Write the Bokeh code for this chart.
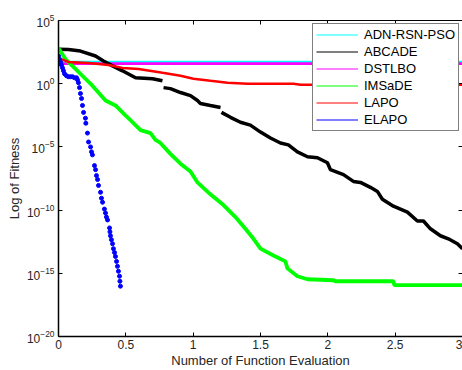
import math
from bokeh.plotting import figure
from bokeh.models import (FixedTicker, LinearAxis, LogAxis, CustomJSTickFormatter,
                          Legend, LegendItem, Range1d)
from bokeh.embed import file_html
from bokeh.resources import INLINE

nan = float("nan")

# x values in units of 10^4 function evaluations; y given as log10(fitness)
adn_x = [0.0, 3.0]
adn_e = [1.76, 1.76]

dst_x = [0.0, 3.0]
dst_e = [1.60, 1.60]

abc_x = [0.0, 0.074, 0.163, 0.275, 0.334, 0.401, 0.475, 0.572, 0.698, 0.772, nan,
         0.780, 0.831, 0.906, 0.980, 1.032, 1.054, 1.128, 1.203, nan,
         1.210, 1.277, 1.351, 1.425, 1.500, 1.574, 1.648, 1.707, 1.774, 1.849, 1.923,
         1.997, 2.019, 2.116, 2.190, 2.242, 2.316, 2.368, 2.405, 2.487, 2.591, 2.665,
         2.710, 2.762, 2.836, 2.895, 2.962, 3.0]
abc_e = [2.73, 2.70, 2.58, 2.19, 1.80, 1.41, 1.02, 0.47, 0.39, 0.23, nan,
         -0.31, -0.39, -0.70, -0.94, -1.33, -1.56, -1.72, -1.88, nan,
         -2.27, -2.66, -3.05, -3.28, -3.83, -4.30, -4.69, -4.84, -5.39, -5.78, -5.86,
         -6.25, -6.80, -7.19, -7.73, -7.81, -8.20, -8.52, -9.14, -9.69, -10.16, -10.86,
         -10.86, -11.48, -12.03, -12.27, -12.66, -13.05]

ims_x = [0.0, 0.052, 0.126, 0.200, 0.252, 0.349, 0.423, 0.497, 0.535, 0.594, 0.609,
         0.683, 0.720, 0.757, 0.831, 0.906, 0.980, 1.032, 1.128, 1.218, 1.314, 1.388,
         1.448, 1.500, 1.596, 1.685, 1.700, 1.774, 1.849, 2.042, 2.056, 2.487, 2.494, 3.0]
ims_e = [2.81, 1.95, 1.17, 0.39, -0.16, -1.33, -1.72, -2.50, -2.89, -3.52, -3.67,
         -3.91, -4.45, -4.69, -5.55, -6.33, -6.95, -7.81, -8.75, -9.53, -10.55, -11.48,
         -12.27, -13.05, -13.59, -14.06, -14.61, -15.23, -15.47, -15.55, -15.63, -15.63, -15.94, -15.94]

lapo_x = [0.0, 0.074, 0.223, 0.371, 0.475, 0.594, 0.772, 0.906, 1.002, 1.128, 1.255,
          1.403, 1.745, 1.797, 3.0]
lapo_e = [2.03, 1.72, 1.64, 1.48, 1.25, 1.17, 0.86, 0.63, 0.39, 0.23, 0.08,
          0.0, 0.0, -0.08, -0.08]

elapo_x = [0.000, 0.007, 0.015, 0.022, 0.030, 0.037, 0.045, 0.059, 0.074, 0.089, 0.104,
           0.119, 0.134, 0.141, 0.148, 0.156, 0.163, 0.171, 0.178, 0.186, 0.200, 0.203,
           0.215, 0.223, 0.238, 0.245, 0.252, 0.267, 0.275, 0.282, 0.290, 0.297, 0.312,
           0.319, 0.327, 0.341, 0.349, 0.356, 0.364, 0.379, 0.382, 0.386, 0.393, 0.401,
           0.408, 0.416, 0.423, 0.431, 0.438, 0.445, 0.453, 0.456, 0.460]
elapo_e = [2.19, 1.95, 1.72, 1.48, 1.25, 1.02, 0.78, 0.63, 0.55, 0.55, 0.55,
           0.47, 0.47, 0.31, 0.08, -0.31, -0.78, -1.17, -1.72, -2.27, -2.73, -3.13,
           -3.91, -4.61, -5.00, -5.39, -5.63, -6.48, -6.80, -7.27, -7.58, -8.05, -8.59,
           -9.06, -9.38, -9.92, -10.23, -10.55, -10.78, -11.41, -11.72, -12.03, -12.34, -12.66,
           -13.05, -13.36, -13.67, -14.06, -14.45, -14.84, -15.23, -15.63, -16.02]

names = ["ADN-RSN-PSO", "ABCADE", "DSTLBO", "IMSaDE", "LAPO", "ELAPO"]
colors = ["#00FFFF", "#000000", "#FF00FF", "#00FF00", "#FF0000", "#0000FF"]
x_ticks = [0, 0.5, 1, 1.5, 2, 2.5, 3]
y_ticks = [1e-20, 1e-15, 1e-10, 1e-5, 1, 1e5]

def pw(e):
    return [10 ** v if v == v else nan for v in e]

FONT = "Liberation Sans"
TXT = "#262626"

p = figure(width=462, height=370, y_axis_type="log",
           x_range=Range1d(0, 3.0), y_range=Range1d(1e-20, 1e5),
           output_backend="svg", toolbar_location=None,
           min_border_left=58, min_border_right=0, min_border_top=20, min_border_bottom=31,
           outline_line_color=None, background_fill_color="white", border_fill_color="white")
p.xgrid.visible = False
p.ygrid.visible = False

p.line(dst_x, pw(dst_e), line_color=colors[2], line_width=3)
p.line(adn_x, pw(adn_e), line_color=colors[0], line_width=1.6)
p.line(abc_x, pw(abc_e), line_color=colors[1], line_width=3.5)
p.line(ims_x, pw(ims_e), line_color=colors[3], line_width=3.8)
p.line(lapo_x, pw(lapo_e), line_color=colors[4], line_width=2.5)
p.scatter(elapo_x, pw(elapo_e), size=4, fill_color=colors[5], line_color=colors[5])

# legend proxies (thin lines, as in the reference legend); a single NaN point draws nothing
proxies = [p.line([nan], [nan], line_color=c, line_width=1) for c in colors]

def style_axis(ax):
    ax.major_tick_in = 4
    ax.major_tick_out = 0
    ax.minor_tick_in = 0
    ax.minor_tick_out = 0
    ax.axis_line_color = "black"
    ax.major_tick_line_color = "black"
    ax.major_label_text_font = FONT
    ax.major_label_text_font_size = "12px"
    ax.major_label_text_color = TXT

xa = p.xaxis[0]
style_axis(xa)
xa.ticker = FixedTicker(ticks=x_ticks)
xa.formatter = CustomJSTickFormatter(code="return String(Math.round(tick*10)/10)")
xa.axis_line_width = 1.5
xa.major_label_standoff = 3
xa.axis_label = "Number of Function Evaluation"
xa.axis_label_text_font = FONT
xa.axis_label_text_font_size = "13px"
xa.axis_label_text_font_style = "normal"
xa.axis_label_text_color = TXT
xa.axis_label_standoff = 1

ya = p.yaxis[0]
style_axis(ya)
ya.ticker = FixedTicker(ticks=y_ticks, minor_ticks=[])
ya.axis_line_width = 1.5
ya.major_label_standoff = 4
ya.axis_label = "Log of Fitness"
ya.axis_label_text_font = FONT
ya.axis_label_text_font_size = "13px"
ya.axis_label_text_font_style = "normal"
ya.axis_label_text_color = TXT
ya.axis_label_standoff = 2

top = LinearAxis(ticker=FixedTicker(ticks=x_ticks),
                 formatter=CustomJSTickFormatter(code="return ''"))
style_axis(top)
top.major_label_standoff = 0
p.add_layout(top, "above")

right = LogAxis(ticker=FixedTicker(ticks=y_ticks, minor_ticks=[]),
                formatter=CustomJSTickFormatter(code="return ''"))
style_axis(right)
right.axis_line_color = None
right.major_label_standoff = 0
p.add_layout(right, "right")

legend = Legend(items=[LegendItem(label=n, renderers=[r]) for n, r in zip(names, proxies)],
                location=(254, 205), border_line_color="black", border_line_width=1,
                background_fill_color="white", background_fill_alpha=1,
                label_text_font=FONT, label_text_font_size="13px", label_text_color="#000000",
                glyph_width=42, glyph_height=15, label_height=15, spacing=2,
                padding=3, margin=0, label_standoff=6)
p.add_layout(legend)

open("out.html", "w").write(file_html(p, INLINE))
